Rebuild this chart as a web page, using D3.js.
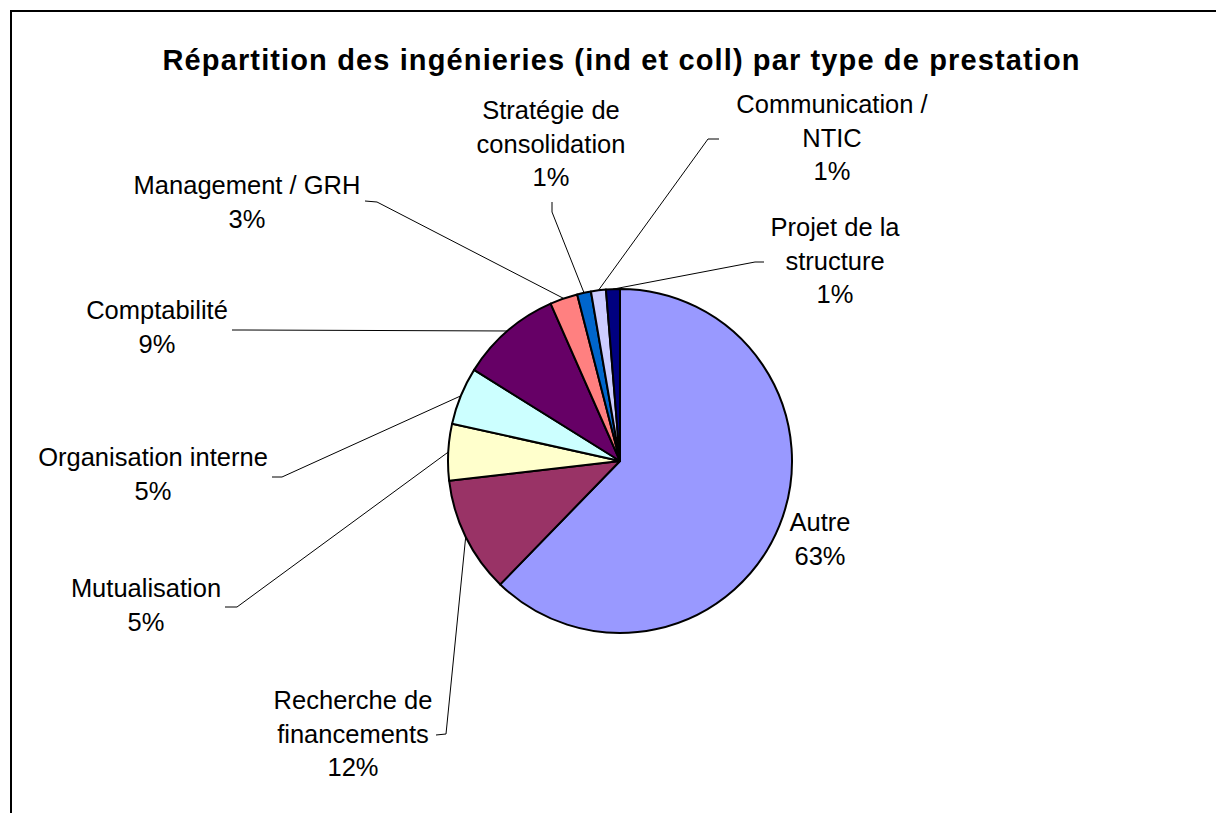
<!DOCTYPE html>
<html>
<head>
<meta charset="utf-8">
<script src="https://cdn.jsdelivr.net/npm/d3@7"></script>
<style>
  body { margin: 0; background: #fff; }
  svg text { font-family: "Liberation Sans", Arial, sans-serif; fill: #000; }
</style>
</head>
<body>
<div id="chart"></div>
<script>
// data (share of slice, clockwise from 12 o'clock)
var categories = ['Autre', 'Recherche de financements', 'Mutualisation', 'Organisation interne',
  'Comptabilité', 'Management / GRH', 'Stratégie de consolidation', 'Communication / NTIC',
  'Projet de la structure']
var values = [62.2, 10.9, 5.3, 5.4, 9.5, 2.6, 1.3, 1.4, 1.3]
var pctLabels = ['63%', '12%', '5%', '5%', '9%', '3%', '1%', '1%', '1%']
var colors = ['#9999FF', '#993366', '#FFFFCC', '#CCFFFF', '#660066', '#FF8080', '#0066CC', '#CCCCFF', '#000080']

// how each label is broken into lines
var labelLines = [
  ['Autre'],
  ['Recherche de', 'financements'],
  ['Mutualisation'],
  ['Organisation interne'],
  ['Comptabilité'],
  ['Management / GRH'],
  ['Stratégie de', 'consolidation'],
  ['Communication /', 'NTIC'],
  ['Projet de la', 'structure']
]

// label layout: centre x, first baseline y, knee of leader line (null = no leader)
var labelLayout = [
  { x: 820, y: 531, knee: null },
  { x: 353, y: 709, knee: [[436, 735], [446, 734]] },
  { x: 146, y: 597, knee: [[225, 607], [237, 607]] },
  { x: 153, y: 466, knee: [[272, 477], [282, 477]] },
  { x: 157, y: 319, knee: [[232, 330], [244, 330]] },
  { x: 247, y: 194, knee: [[365, 201], [377, 202]] },
  { x: 551, y: 119, knee: [[552, 202], [552, 212]] },
  { x: 832, y: 113, knee: [[719, 139], [708, 139]] },
  { x: 835, y: 236, knee: [[764, 262], [755, 262]] }
]

var width = 1216
var height = 813
var cx = 620
var cy = 461
var radius = 172
var lineH = 33.5

var svg = d3.select('#chart')
  .append('svg')
  .attr('width', width)
  .attr('height', height)

// chart frame (only top and left edges are in view)
svg.append('rect')
  .attr('x', 11)
  .attr('y', 11)
  .attr('width', 1300)
  .attr('height', 1000)
  .attr('fill', 'none')
  .attr('stroke', '#000')
  .attr('stroke-width', 2)

svg.append('text')
  .attr('x', 621)
  .attr('y', 70)
  .attr('text-anchor', 'middle')
  .attr('font-size', '29px')
  .attr('font-weight', 'bold')
  .attr('textLength', 917)
  .attr('lengthAdjust', 'spacing')
  .text('Répartition des ingénieries (ind et coll) par type de prestation')

var pie = d3.pie().sort(null).value(d => d)
var arcs = pie(values)

var arc = d3.arc().innerRadius(0).outerRadius(radius)
var edgeArc = d3.arc().innerRadius(radius).outerRadius(radius)

var g = svg.append('g')
  .attr('transform', 'translate(' + cx + ',' + cy + ')')

g.selectAll('path.slice')
  .data(arcs)
  .enter()
  .append('path')
  .attr('class', 'slice')
  .attr('d', arc)
  .attr('fill', (d, i) => colors[i])
  .attr('stroke', '#000')
  .attr('stroke-width', 2)
  .attr('stroke-linejoin', 'round')

// leader lines from the middle of each slice's arc to its label
svg.selectAll('path.leader')
  .data(arcs.filter((d, i) => labelLayout[i].knee))
  .enter()
  .append('path')
  .attr('class', 'leader')
  .attr('fill', 'none')
  .attr('stroke', '#000')
  .attr('stroke-width', 1)
  .attr('d', function(d) {
    var knee = labelLayout[d.index].knee
    var c = edgeArc.centroid(d)
    var pts = knee.concat([[cx + c[0], cy + c[1]]])
    return d3.line()(pts)
  })

var labels = svg.selectAll('text.label')
  .data(arcs)
  .enter()
  .append('text')
  .attr('class', 'label')
  .attr('text-anchor', 'middle')
  .attr('font-size', '25.5px')

labels.each(function(d, i) {
  var lines = labelLines[i].concat([pctLabels[i]])
  var t = d3.select(this)
  lines.forEach(function(s, k) {
    t.append('tspan')
      .attr('x', labelLayout[i].x)
      .attr('y', labelLayout[i].y + k * lineH)
      .text(s)
  })
})
</script>
</body>
</html>
